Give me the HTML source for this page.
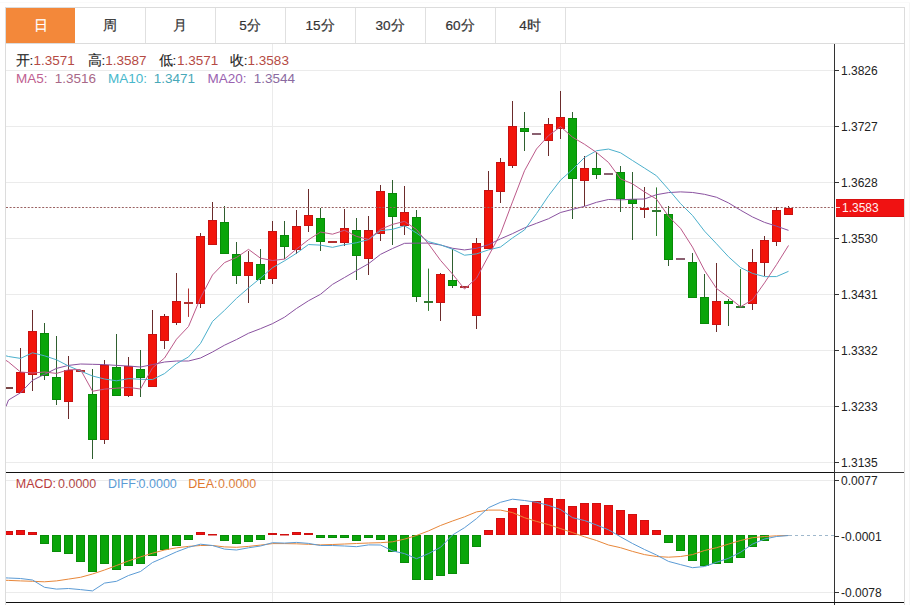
<!DOCTYPE html>
<html><head><meta charset="utf-8">
<style>
html,body{margin:0;padding:0;background:#fff;}
body{width:911px;height:605px;overflow:hidden;position:relative;font-family:"Liberation Sans",sans-serif;}
.tabs{position:absolute;left:5px;top:7px;width:900px;height:37px;}
.tab{position:absolute;top:1px;height:35px;line-height:35px;text-align:center;font-size:13.5px;color:#333;-webkit-text-stroke:0.2px #333;}
.tab.on{background:#f3883a;color:#fff;-webkit-text-stroke:0.2px #fff;}
svg{position:absolute;left:0;top:0;}
.ax{font-size:12px;fill:#222;font-family:"Liberation Sans",sans-serif;}
.hm{font-size:12.5px;font-family:"Liberation Sans",sans-serif;}
.hd{font-size:13.5px;font-family:"Liberation Sans",sans-serif;}
</style></head><body>
<svg width="911" height="605" viewBox="0 0 911 605">
<defs><clipPath id="cp"><rect x="6" y="44" width="828" height="428"/></clipPath>
<clipPath id="cp2"><rect x="6" y="473" width="828" height="129"/></clipPath></defs>
<!-- frame -->
<rect x="909" y="2" width="1" height="603" fill="#f6f6f6"/><rect x="0" y="2" width="910" height="1" fill="#fafafa"/>
<rect x="5" y="7" width="900" height="1" fill="#dcdcdc"/>
<rect x="5" y="43" width="900" height="1" fill="#dcdcdc"/>
<rect x="5" y="7" width="1" height="598" fill="#dcdcdc"/>
<rect x="904" y="7" width="1" height="598" fill="#dcdcdc"/>
<rect x="145" y="8" width="1" height="35" fill="#e0e0e0"/>
<rect x="215" y="8" width="1" height="35" fill="#e0e0e0"/>
<rect x="285" y="8" width="1" height="35" fill="#e0e0e0"/>
<rect x="355" y="8" width="1" height="35" fill="#e0e0e0"/>
<rect x="425" y="8" width="1" height="35" fill="#e0e0e0"/>
<rect x="495" y="8" width="1" height="35" fill="#e0e0e0"/>
<rect x="565" y="8" width="1" height="35" fill="#e0e0e0"/>
<rect x="6" y="8" width="69" height="35" fill="#f3883a"/>
<rect x="6" y="70" width="828" height="1" fill="#ebebeb"/>
<rect x="6" y="126" width="828" height="1" fill="#ebebeb"/>
<rect x="6" y="182" width="828" height="1" fill="#ebebeb"/>
<rect x="6" y="238" width="828" height="1" fill="#ebebeb"/>
<rect x="6" y="294" width="828" height="1" fill="#ebebeb"/>
<rect x="6" y="350" width="828" height="1" fill="#ebebeb"/>
<rect x="6" y="406" width="828" height="1" fill="#ebebeb"/>
<rect x="6" y="462" width="828" height="1" fill="#ebebeb"/>
<rect x="272" y="44" width="1" height="558" fill="#ebebeb"/>
<rect x="560" y="44" width="1" height="558" fill="#ebebeb"/>
<rect x="6" y="480" width="828" height="1" fill="#ebebeb"/>
<rect x="6" y="592" width="828" height="1" fill="#ebebeb"/>
<g clip-path="url(#cp)">
<rect x="4" y="387" width="9" height="2" fill="#7a4545"/>
<rect x="20" y="348" width="1" height="45" fill="#6b2b2b"/>
<rect x="16.5" y="372.5" width="8" height="20" fill="#f2140a" stroke="#c81212" stroke-width="1"/>
<rect x="32" y="310" width="1" height="81" fill="#6b2b2b"/>
<rect x="28.5" y="331.5" width="8" height="43" fill="#f2140a" stroke="#c81212" stroke-width="1"/>
<rect x="44" y="323" width="1" height="57" fill="#2f5f2f"/>
<rect x="40.5" y="333.5" width="8" height="42" fill="#0aa50a" stroke="#088a08" stroke-width="1"/>
<rect x="56" y="336" width="1" height="69" fill="#2f5f2f"/>
<rect x="52.5" y="377.5" width="8" height="22" fill="#0aa50a" stroke="#088a08" stroke-width="1"/>
<rect x="68" y="356" width="1" height="63" fill="#6b2b2b"/>
<rect x="64.5" y="370.5" width="8" height="31" fill="#f2140a" stroke="#c81212" stroke-width="1"/>
<rect x="76" y="370" width="9" height="2" fill="#b03030"/>
<rect x="92" y="369" width="1" height="90" fill="#2f5f2f"/>
<rect x="88.5" y="394.5" width="8" height="45" fill="#0aa50a" stroke="#088a08" stroke-width="1"/>
<rect x="104" y="360" width="1" height="84" fill="#6b2b2b"/>
<rect x="100.5" y="365.5" width="8" height="74" fill="#f2140a" stroke="#c81212" stroke-width="1"/>
<rect x="116" y="334" width="1" height="62" fill="#2f5f2f"/>
<rect x="112.5" y="367.5" width="8" height="28" fill="#0aa50a" stroke="#088a08" stroke-width="1"/>
<rect x="128" y="357" width="1" height="40" fill="#6b2b2b"/>
<rect x="124.5" y="366.5" width="8" height="29" fill="#f2140a" stroke="#c81212" stroke-width="1"/>
<rect x="140" y="350" width="1" height="47" fill="#2f5f2f"/>
<rect x="136.5" y="369.5" width="8" height="8" fill="#0aa50a" stroke="#088a08" stroke-width="1"/>
<rect x="152" y="310" width="1" height="77" fill="#6b2b2b"/>
<rect x="148.5" y="334.5" width="8" height="52" fill="#f2140a" stroke="#c81212" stroke-width="1"/>
<rect x="164" y="314" width="1" height="35" fill="#6b2b2b"/>
<rect x="160.5" y="316.5" width="8" height="24" fill="#f2140a" stroke="#c81212" stroke-width="1"/>
<rect x="176" y="273" width="1" height="52" fill="#6b2b2b"/>
<rect x="172.5" y="301.5" width="8" height="21" fill="#f2140a" stroke="#c81212" stroke-width="1"/>
<rect x="188" y="288.5" width="1" height="28.4" fill="#b03030"/>
<rect x="184" y="302" width="9" height="2" fill="#b03030"/>
<rect x="200" y="233" width="1" height="75" fill="#6b2b2b"/>
<rect x="196.5" y="236.5" width="8" height="67" fill="#f2140a" stroke="#c81212" stroke-width="1"/>
<rect x="212" y="202" width="1" height="43" fill="#6b2b2b"/>
<rect x="208.5" y="220.5" width="8" height="24" fill="#f2140a" stroke="#c81212" stroke-width="1"/>
<rect x="224" y="206" width="1" height="48" fill="#2f5f2f"/>
<rect x="220.5" y="222.5" width="8" height="31" fill="#0aa50a" stroke="#088a08" stroke-width="1"/>
<rect x="236" y="242" width="1" height="42" fill="#2f5f2f"/>
<rect x="232.5" y="254.5" width="8" height="21" fill="#0aa50a" stroke="#088a08" stroke-width="1"/>
<rect x="248" y="251" width="1" height="52" fill="#6b2b2b"/>
<rect x="244.5" y="262.5" width="8" height="13" fill="#f2140a" stroke="#c81212" stroke-width="1"/>
<rect x="260" y="249" width="1" height="35" fill="#2f5f2f"/>
<rect x="256.5" y="264.5" width="8" height="15" fill="#0aa50a" stroke="#088a08" stroke-width="1"/>
<rect x="272" y="221" width="1" height="63" fill="#6b2b2b"/>
<rect x="268.5" y="231.5" width="8" height="47" fill="#f2140a" stroke="#c81212" stroke-width="1"/>
<rect x="284" y="221" width="1" height="38" fill="#2f5f2f"/>
<rect x="280.5" y="235.5" width="8" height="11" fill="#0aa50a" stroke="#088a08" stroke-width="1"/>
<rect x="296" y="210" width="1" height="44" fill="#6b2b2b"/>
<rect x="292.5" y="226.5" width="8" height="23" fill="#f2140a" stroke="#c81212" stroke-width="1"/>
<rect x="308" y="189" width="1" height="43" fill="#6b2b2b"/>
<rect x="304.5" y="215.5" width="8" height="10" fill="#f2140a" stroke="#c81212" stroke-width="1"/>
<rect x="320" y="208" width="1" height="43" fill="#2f5f2f"/>
<rect x="316.5" y="218.5" width="8" height="23" fill="#0aa50a" stroke="#088a08" stroke-width="1"/>
<rect x="328" y="241" width="9" height="2" fill="#b03030"/>
<rect x="344" y="209" width="1" height="37" fill="#6b2b2b"/>
<rect x="340.5" y="228.5" width="8" height="14" fill="#f2140a" stroke="#c81212" stroke-width="1"/>
<rect x="356" y="218" width="1" height="62" fill="#2f5f2f"/>
<rect x="352.5" y="230.5" width="8" height="25" fill="#0aa50a" stroke="#088a08" stroke-width="1"/>
<rect x="368" y="216" width="1" height="59" fill="#6b2b2b"/>
<rect x="364.5" y="230.5" width="8" height="28" fill="#f2140a" stroke="#c81212" stroke-width="1"/>
<rect x="380" y="185" width="1" height="56" fill="#6b2b2b"/>
<rect x="376.5" y="191.5" width="8" height="42" fill="#f2140a" stroke="#c81212" stroke-width="1"/>
<rect x="392" y="180" width="1" height="65" fill="#2f5f2f"/>
<rect x="388.5" y="193.5" width="8" height="23" fill="#0aa50a" stroke="#088a08" stroke-width="1"/>
<rect x="404" y="186" width="1" height="49" fill="#6b2b2b"/>
<rect x="400.5" y="212.5" width="8" height="13" fill="#f2140a" stroke="#c81212" stroke-width="1"/>
<rect x="416" y="210" width="1" height="92" fill="#2f5f2f"/>
<rect x="412.5" y="217.5" width="8" height="79" fill="#0aa50a" stroke="#088a08" stroke-width="1"/>
<rect x="428" y="268.6" width="1" height="42.3" fill="#2f7a2f"/>
<rect x="424" y="301" width="9" height="2" fill="#2f7a2f"/>
<rect x="440" y="273" width="1" height="48" fill="#6b2b2b"/>
<rect x="436.5" y="274.5" width="8" height="28" fill="#f2140a" stroke="#c81212" stroke-width="1"/>
<rect x="452" y="249" width="1" height="39" fill="#2f5f2f"/>
<rect x="448.5" y="280.5" width="8" height="5" fill="#0aa50a" stroke="#088a08" stroke-width="1"/>
<rect x="460" y="286" width="9" height="2" fill="#b03030"/>
<rect x="476" y="238" width="1" height="91" fill="#6b2b2b"/>
<rect x="472.5" y="243.5" width="8" height="72" fill="#f2140a" stroke="#c81212" stroke-width="1"/>
<rect x="488" y="171" width="1" height="78" fill="#6b2b2b"/>
<rect x="484.5" y="190.5" width="8" height="58" fill="#f2140a" stroke="#c81212" stroke-width="1"/>
<rect x="500" y="158" width="1" height="45" fill="#6b2b2b"/>
<rect x="496.5" y="162.5" width="8" height="29" fill="#f2140a" stroke="#c81212" stroke-width="1"/>
<rect x="512" y="101" width="1" height="67" fill="#6b2b2b"/>
<rect x="508.5" y="126.5" width="8" height="39" fill="#f2140a" stroke="#c81212" stroke-width="1"/>
<rect x="524" y="112" width="1" height="39" fill="#2f5f2f"/>
<rect x="520.5" y="128.5" width="8" height="3" fill="#0aa50a" stroke="#088a08" stroke-width="1"/>
<rect x="532" y="133" width="9" height="2" fill="#8a6070"/>
<rect x="548" y="118" width="1" height="38" fill="#6b2b2b"/>
<rect x="544.5" y="124.5" width="8" height="16" fill="#f2140a" stroke="#c81212" stroke-width="1"/>
<rect x="560" y="91" width="1" height="48" fill="#6b2b2b"/>
<rect x="556.5" y="117.5" width="8" height="11" fill="#f2140a" stroke="#c81212" stroke-width="1"/>
<rect x="572" y="112" width="1" height="107" fill="#2f5f2f"/>
<rect x="568.5" y="118.5" width="8" height="60" fill="#0aa50a" stroke="#088a08" stroke-width="1"/>
<rect x="584" y="156" width="1" height="50" fill="#6b2b2b"/>
<rect x="580.5" y="168.5" width="8" height="12" fill="#f2140a" stroke="#c81212" stroke-width="1"/>
<rect x="596" y="152" width="1" height="27" fill="#2f5f2f"/>
<rect x="592.5" y="168.5" width="8" height="6" fill="#0aa50a" stroke="#088a08" stroke-width="1"/>
<rect x="604" y="173" width="9" height="2" fill="#8a6070"/>
<rect x="620" y="166" width="1" height="46" fill="#2f5f2f"/>
<rect x="616.5" y="172.5" width="8" height="26" fill="#0aa50a" stroke="#088a08" stroke-width="1"/>
<rect x="632" y="172" width="1" height="68" fill="#2f5f2f"/>
<rect x="628.5" y="199.5" width="8" height="4" fill="#0aa50a" stroke="#088a08" stroke-width="1"/>
<rect x="644" y="187" width="1" height="31" fill="#6b2b2b"/>
<rect x="640.5" y="208.5" width="8" height="1" fill="#f2140a" stroke="#c81212" stroke-width="1"/>
<rect x="656" y="187.4" width="1" height="48.6" fill="#2f7a2f"/>
<rect x="652" y="210" width="9" height="2" fill="#2f7a2f"/>
<rect x="668" y="206" width="1" height="60" fill="#2f5f2f"/>
<rect x="664.5" y="214.5" width="8" height="45" fill="#0aa50a" stroke="#088a08" stroke-width="1"/>
<rect x="676" y="258" width="9" height="2" fill="#8a6070"/>
<rect x="692" y="253" width="1" height="45" fill="#2f5f2f"/>
<rect x="688.5" y="262.5" width="8" height="35" fill="#0aa50a" stroke="#088a08" stroke-width="1"/>
<rect x="704" y="274" width="1" height="50" fill="#2f5f2f"/>
<rect x="700.5" y="297.5" width="8" height="26" fill="#0aa50a" stroke="#088a08" stroke-width="1"/>
<rect x="716" y="263" width="1" height="69" fill="#6b2b2b"/>
<rect x="712.5" y="301.5" width="8" height="23" fill="#f2140a" stroke="#c81212" stroke-width="1"/>
<rect x="728" y="299" width="1" height="27" fill="#2f5f2f"/>
<rect x="724.5" y="301.5" width="8" height="2" fill="#0aa50a" stroke="#088a08" stroke-width="1"/>
<rect x="740" y="269.1" width="1" height="38.2" fill="#2f7a2f"/>
<rect x="736" y="306" width="9" height="2" fill="#2f7a2f"/>
<rect x="752" y="249" width="1" height="61" fill="#6b2b2b"/>
<rect x="748.5" y="262.5" width="8" height="41" fill="#f2140a" stroke="#c81212" stroke-width="1"/>
<rect x="764" y="236" width="1" height="40" fill="#6b2b2b"/>
<rect x="760.5" y="240.5" width="8" height="22" fill="#f2140a" stroke="#c81212" stroke-width="1"/>
<rect x="776" y="207" width="1" height="39" fill="#6b2b2b"/>
<rect x="772.5" y="210.5" width="8" height="31" fill="#f2140a" stroke="#c81212" stroke-width="1"/>
<rect x="788" y="206" width="1" height="9" fill="#6b2b2b"/>
<rect x="784.5" y="208.5" width="8" height="6" fill="#f2140a" stroke="#c81212" stroke-width="1"/>
<polyline points="6,406.5 8.5,400 20.5,392.8 32.5,380.3 44.5,374.3 56.5,368.4 68.5,365.4 80.5,364 92.5,364.3 104.5,364.6 116.5,365.4 128.5,366 140.5,367 152.5,364.6 164.5,362 176.5,361 188.5,361 200.5,358 212.5,352 224.5,345.2 236.5,339.56 248.5,333.26 260.5,328.67 272.5,323.65 284.5,317.21 296.5,308.48 308.5,300.75 320.5,294.29 332.5,284.38 344.5,277.5 356.5,270.53 368.5,263.74 380.5,254.38 392.5,248.52 404.5,243.33 416.5,243.12 428.5,243.08 440.5,244.98 452.5,248.28 464.5,249.95 476.5,248.31 488.5,244.72 500.5,238.85 512.5,233.62 524.5,227.87 536.5,223.29 548.5,218.72 560.5,212.5 572.5,209.37 584.5,206.36 596.5,202.31 608.5,199.48 620.5,199.89 632.5,199.22 644.5,199 656.5,194.69 668.5,192.59 680.5,191.88 692.5,192.48 704.5,194.32 716.5,197.25 728.5,202.91 740.5,210.16 752.5,216.95 764.5,222.36 776.5,226.17 788.5,230.37" fill="none" stroke="#8a52a0" stroke-width="1" stroke-linejoin="round"/>
<polyline points="6,355.8 8.5,356.5 20.5,358.4 32.5,352.8 44.5,355.8 56.5,359.8 68.5,366 80.5,371 92.5,376 104.5,379 116.5,380.8 128.5,378.6 140.5,379.27 152.5,379.56 164.5,373.59 176.5,363.69 188.5,356.96 200.5,343.46 212.5,321.43 224.5,310.32 236.5,298.33 248.5,287.93 260.5,278.07 272.5,267.74 284.5,260.83 296.5,253.26 308.5,244.53 320.5,245.13 332.5,247.34 344.5,244.69 356.5,242.73 368.5,239.55 380.5,230.68 392.5,229.3 404.5,225.83 416.5,232.98 428.5,241.63 440.5,244.83 452.5,249.22 464.5,255.21 476.5,253.89 488.5,249.9 500.5,247.02 512.5,237.94 524.5,229.9 536.5,213.6 548.5,195.8 560.5,180.17 572.5,169.51 584.5,157.51 596.5,150.72 608.5,149.06 620.5,152.75 632.5,160.49 644.5,168.1 656.5,175.77 668.5,189.39 680.5,203.59 692.5,215.46 704.5,231.13 716.5,243.77 728.5,256.76 740.5,267.56 752.5,273.41 764.5,276.61 776.5,276.57 788.5,271.34" fill="none" stroke="#4cb0cc" stroke-width="1" stroke-linejoin="round"/>
<polyline points="6,360.4 8.5,362 20.5,372 32.5,373 44.5,372 56.5,373.42 68.5,369.78 80.5,369.54 92.5,391.24 104.5,389.12 116.5,388.18 128.5,387.42 140.5,389 152.5,367.88 164.5,358.06 176.5,339.2 188.5,326.5 200.5,297.92 212.5,274.98 224.5,262.58 236.5,257.46 248.5,249.36 260.5,258.22 272.5,260.5 284.5,259.08 296.5,249.06 308.5,239.7 320.5,232.04 332.5,234.18 344.5,230.3 356.5,236.4 368.5,239.4 380.5,229.32 392.5,224.42 404.5,221.36 416.5,229.56 428.5,243.86 440.5,260.34 452.5,274.02 464.5,289.06 476.5,278.22 488.5,255.94 500.5,233.7 512.5,201.86 524.5,170.74 536.5,148.98 548.5,135.66 560.5,126.64 572.5,137.16 584.5,144.28 596.5,152.46 608.5,162.46 620.5,178.86 632.5,183.82 644.5,191.92 656.5,199.08 668.5,216.32 680.5,228.32 692.5,247.1 704.5,270.34 716.5,288.46 728.5,297.2 740.5,306.8 752.5,299.72 764.5,282.88 776.5,264.68 788.5,245.48" fill="none" stroke="#bc5a8a" stroke-width="1" stroke-linejoin="round"/>
<line x1="6" y1="207.5" x2="834" y2="207.5" stroke="#9a6262" stroke-width="1" stroke-dasharray="2,1.62"/>
</g>
<g clip-path="url(#cp2)">
<rect x="4.5" y="531.5" width="8" height="3" fill="#f01010" stroke="#d01010" stroke-width="1"/>
<rect x="16.5" y="530.5" width="8" height="4" fill="#f01010" stroke="#d01010" stroke-width="1"/>
<rect x="28.5" y="532.5" width="8" height="2" fill="#f01010" stroke="#d01010" stroke-width="1"/>
<rect x="40.5" y="535.5" width="8" height="8" fill="#0aa50a" stroke="#088c08" stroke-width="1"/>
<rect x="52.5" y="535.5" width="8" height="16" fill="#0aa50a" stroke="#088c08" stroke-width="1"/>
<rect x="64.5" y="535.5" width="8" height="18" fill="#0aa50a" stroke="#088c08" stroke-width="1"/>
<rect x="76.5" y="535.5" width="8" height="26" fill="#0aa50a" stroke="#088c08" stroke-width="1"/>
<rect x="88.5" y="535.5" width="8" height="36" fill="#0aa50a" stroke="#088c08" stroke-width="1"/>
<rect x="100.5" y="535.5" width="8" height="28" fill="#0aa50a" stroke="#088c08" stroke-width="1"/>
<rect x="112.5" y="535.5" width="8" height="34" fill="#0aa50a" stroke="#088c08" stroke-width="1"/>
<rect x="124.5" y="535.5" width="8" height="30" fill="#0aa50a" stroke="#088c08" stroke-width="1"/>
<rect x="136.5" y="535.5" width="8" height="28" fill="#0aa50a" stroke="#088c08" stroke-width="1"/>
<rect x="148.5" y="535.5" width="8" height="20" fill="#0aa50a" stroke="#088c08" stroke-width="1"/>
<rect x="160.5" y="535.5" width="8" height="14" fill="#0aa50a" stroke="#088c08" stroke-width="1"/>
<rect x="172.5" y="535.5" width="8" height="10" fill="#0aa50a" stroke="#088c08" stroke-width="1"/>
<rect x="184.5" y="535.5" width="8" height="4" fill="#0aa50a" stroke="#088c08" stroke-width="1"/>
<rect x="196.5" y="532.5" width="8" height="2" fill="#f01010" stroke="#d01010" stroke-width="1"/>
<rect x="208.5" y="534.5" width="8" height="0.5" fill="#f01010" stroke="#d01010" stroke-width="1"/>
<rect x="220.5" y="535.5" width="8" height="5" fill="#0aa50a" stroke="#088c08" stroke-width="1"/>
<rect x="232.5" y="535.5" width="8" height="8" fill="#0aa50a" stroke="#088c08" stroke-width="1"/>
<rect x="244.5" y="535.5" width="8" height="6" fill="#0aa50a" stroke="#088c08" stroke-width="1"/>
<rect x="256.5" y="535.5" width="8" height="4" fill="#0aa50a" stroke="#088c08" stroke-width="1"/>
<rect x="268.5" y="533.5" width="8" height="1" fill="#f01010" stroke="#d01010" stroke-width="1"/>
<rect x="280.5" y="534.5" width="8" height="0.5" fill="#f01010" stroke="#d01010" stroke-width="1"/>
<rect x="292.5" y="532.5" width="8" height="2" fill="#f01010" stroke="#d01010" stroke-width="1"/>
<rect x="304.5" y="533.5" width="8" height="1" fill="#f01010" stroke="#d01010" stroke-width="1"/>
<rect x="316.5" y="535.5" width="8" height="2" fill="#0aa50a" stroke="#088c08" stroke-width="1"/>
<rect x="328.5" y="535.5" width="8" height="2" fill="#0aa50a" stroke="#088c08" stroke-width="1"/>
<rect x="340.5" y="535.5" width="8" height="2" fill="#0aa50a" stroke="#088c08" stroke-width="1"/>
<rect x="352.5" y="535.5" width="8" height="5" fill="#0aa50a" stroke="#088c08" stroke-width="1"/>
<rect x="364.5" y="535.5" width="8" height="2" fill="#0aa50a" stroke="#088c08" stroke-width="1"/>
<rect x="376.5" y="535.5" width="8" height="4" fill="#0aa50a" stroke="#088c08" stroke-width="1"/>
<rect x="388.5" y="535.5" width="8" height="16" fill="#0aa50a" stroke="#088c08" stroke-width="1"/>
<rect x="400.5" y="535.5" width="8" height="27" fill="#0aa50a" stroke="#088c08" stroke-width="1"/>
<rect x="412.5" y="535.5" width="8" height="44" fill="#0aa50a" stroke="#088c08" stroke-width="1"/>
<rect x="424.5" y="535.5" width="8" height="44" fill="#0aa50a" stroke="#088c08" stroke-width="1"/>
<rect x="436.5" y="535.5" width="8" height="40" fill="#0aa50a" stroke="#088c08" stroke-width="1"/>
<rect x="448.5" y="535.5" width="8" height="38" fill="#0aa50a" stroke="#088c08" stroke-width="1"/>
<rect x="460.5" y="535.5" width="8" height="28" fill="#0aa50a" stroke="#088c08" stroke-width="1"/>
<rect x="472.5" y="535.5" width="8" height="11" fill="#0aa50a" stroke="#088c08" stroke-width="1"/>
<rect x="484.5" y="530.5" width="8" height="4" fill="#f01010" stroke="#d01010" stroke-width="1"/>
<rect x="496.5" y="518.5" width="8" height="16" fill="#f01010" stroke="#d01010" stroke-width="1"/>
<rect x="508.5" y="508.5" width="8" height="26" fill="#f01010" stroke="#d01010" stroke-width="1"/>
<rect x="520.5" y="505.5" width="8" height="29" fill="#f01010" stroke="#d01010" stroke-width="1"/>
<rect x="532.5" y="501.5" width="8" height="33" fill="#f01010" stroke="#d01010" stroke-width="1"/>
<rect x="544.5" y="498.5" width="8" height="36" fill="#f01010" stroke="#d01010" stroke-width="1"/>
<rect x="556.5" y="499.5" width="8" height="35" fill="#f01010" stroke="#d01010" stroke-width="1"/>
<rect x="568.5" y="506.5" width="8" height="28" fill="#f01010" stroke="#d01010" stroke-width="1"/>
<rect x="580.5" y="503.5" width="8" height="31" fill="#f01010" stroke="#d01010" stroke-width="1"/>
<rect x="592.5" y="503.5" width="8" height="31" fill="#f01010" stroke="#d01010" stroke-width="1"/>
<rect x="604.5" y="505.5" width="8" height="29" fill="#f01010" stroke="#d01010" stroke-width="1"/>
<rect x="616.5" y="510.5" width="8" height="24" fill="#f01010" stroke="#d01010" stroke-width="1"/>
<rect x="628.5" y="514.5" width="8" height="20" fill="#f01010" stroke="#d01010" stroke-width="1"/>
<rect x="640.5" y="520.5" width="8" height="14" fill="#f01010" stroke="#d01010" stroke-width="1"/>
<rect x="652.5" y="530.5" width="8" height="4" fill="#f01010" stroke="#d01010" stroke-width="1"/>
<rect x="664.5" y="535.5" width="8" height="7" fill="#0aa50a" stroke="#088c08" stroke-width="1"/>
<rect x="676.5" y="535.5" width="8" height="15" fill="#0aa50a" stroke="#088c08" stroke-width="1"/>
<rect x="688.5" y="535.5" width="8" height="25" fill="#0aa50a" stroke="#088c08" stroke-width="1"/>
<rect x="700.5" y="535.5" width="8" height="30" fill="#0aa50a" stroke="#088c08" stroke-width="1"/>
<rect x="712.5" y="535.5" width="8" height="28" fill="#0aa50a" stroke="#088c08" stroke-width="1"/>
<rect x="724.5" y="535.5" width="8" height="27" fill="#0aa50a" stroke="#088c08" stroke-width="1"/>
<rect x="736.5" y="535.5" width="8" height="22" fill="#0aa50a" stroke="#088c08" stroke-width="1"/>
<rect x="748.5" y="535.5" width="8" height="11" fill="#0aa50a" stroke="#088c08" stroke-width="1"/>
<rect x="760.5" y="535.5" width="8" height="5" fill="#0aa50a" stroke="#088c08" stroke-width="1"/>
<polyline points="6,580.3 8.5,580.4 20.5,580.9 32.5,581.3 44.5,581.8 56.5,580.9 68.5,579.1 80.5,577.3 92.5,574 104.5,570 116.5,565.5 128.5,560.9 140.5,556.9 152.5,553.2 164.5,550 176.5,547.8 188.5,546.4 200.5,545.5 212.5,545.5 224.5,546.9 236.5,547.3 248.5,546.4 260.5,545.1 272.5,543.6 284.5,543.6 296.5,543.8 308.5,544.3 320.5,544.9 332.5,544.5 344.5,544 356.5,543.5 368.5,543 380.5,542.7 392.5,541.8 404.5,539.1 416.5,535.5 428.5,530.9 440.5,525.5 452.5,521 464.5,516.8 476.5,511.9 488.5,510.1 500.5,510.1 512.5,512.6 524.5,517.7 536.5,521.4 548.5,524.6 560.5,528.6 572.5,532.6 584.5,536.8 596.5,540.5 608.5,545 620.5,547.7 632.5,551.4 644.5,554.6 656.5,556.5 668.5,557.2 680.5,556.5 692.5,554.6 704.5,550.5 716.5,547.7 728.5,544.1 740.5,540.5 752.5,537.7 764.5,536.5 776.5,535.8 788.5,535.5" fill="none" stroke="#e8873a" stroke-width="1" stroke-linejoin="round"/>
<polyline points="6,577.9 8.5,578 20.5,578.5 32.5,580 44.5,587.3 56.5,589.1 68.5,588.5 80.5,589.6 92.5,590.9 104.5,583.1 116.5,581.3 128.5,575.5 140.5,571.5 152.5,562.5 164.5,557.3 176.5,551.8 188.5,547.3 200.5,544.2 212.5,545.5 224.5,549.1 236.5,550 248.5,547.8 260.5,546 272.5,542.7 284.5,543.1 296.5,542.4 308.5,543.4 320.5,545.5 332.5,545.5 344.5,546 356.5,546.7 368.5,544.9 380.5,545 392.5,550.9 404.5,553.6 416.5,558.7 428.5,553.6 440.5,547.3 452.5,535 464.5,527.7 476.5,518.6 488.5,507.7 500.5,502.3 512.5,499.2 524.5,500.5 536.5,502.3 548.5,505.4 560.5,509.5 572.5,517.7 584.5,520.5 596.5,525 608.5,529.8 620.5,536.8 632.5,543.5 644.5,549.5 656.5,555 668.5,561.4 680.5,564.6 692.5,567.7 704.5,566.5 716.5,562.3 728.5,558.3 740.5,552.3 752.5,544.1 764.5,539 776.5,536.5 788.5,535.5" fill="none" stroke="#5b9bd5" stroke-width="1" stroke-linejoin="round"/>
<line x1="789" y1="535.5" x2="834" y2="535.5" stroke="#9fb8cc" stroke-width="1" stroke-dasharray="3,3"/>
</g>
<rect x="834" y="44" width="1" height="561" fill="#333"/>
<rect x="6" y="472" width="828" height="1" fill="#111"/>
<rect x="834" y="472" width="70" height="1" fill="#333"/>
<rect x="6" y="602" width="898" height="1" fill="#111"/>
<rect x="834" y="70" width="5" height="1" fill="#333"/>
<text x="841" y="74.5" class="ax">1.3826</text>
<rect x="834" y="126" width="5" height="1" fill="#333"/>
<text x="841" y="130.5" class="ax">1.3727</text>
<rect x="834" y="182" width="5" height="1" fill="#333"/>
<text x="841" y="186.5" class="ax">1.3628</text>
<rect x="834" y="238" width="5" height="1" fill="#333"/>
<text x="841" y="242.5" class="ax">1.3530</text>
<rect x="834" y="294" width="5" height="1" fill="#333"/>
<text x="841" y="298.5" class="ax">1.3431</text>
<rect x="834" y="350" width="5" height="1" fill="#333"/>
<text x="841" y="354.5" class="ax">1.3332</text>
<rect x="834" y="406" width="5" height="1" fill="#333"/>
<text x="841" y="410.5" class="ax">1.3233</text>
<rect x="834" y="462" width="5" height="1" fill="#333"/>
<text x="841" y="466.5" class="ax">1.3135</text>
<rect x="834" y="480" width="5" height="1" fill="#333"/>
<text x="841" y="484.5" class="ax">0.0077</text>
<rect x="834" y="536" width="5" height="1" fill="#333"/>
<text x="841" y="540.5" class="ax">-0.0001</text>
<rect x="834" y="592" width="5" height="1" fill="#333"/>
<text x="841" y="596.5" class="ax">-0.0078</text>
<rect x="836" y="199" width="68" height="18" fill="#f01212"/><rect x="836" y="199" width="68" height="1" fill="#d81010"/><rect x="836" y="216" width="68" height="1" fill="#d81010"/><rect x="836" y="207" width="4" height="1" fill="#ffd0d0"/>
<text x="842" y="212.3" class="ax" style="fill:#fff0f0">1.3583</text>
<text x="15.5" y="65" class="hd" fill="#222" stroke="#222" stroke-width="0.12">开:</text><text x="33.5" y="65" class="hd" fill="#b54a44">1.3571</text>
<text x="87.5" y="65" class="hd" fill="#222" stroke="#222" stroke-width="0.12">高:</text><text x="105.2" y="65" class="hd" fill="#b54a44">1.3587</text>
<text x="158.5" y="65" class="hd" fill="#222" stroke="#222" stroke-width="0.12">低:</text><text x="177" y="65" class="hd" fill="#b54a44">1.3571</text>
<text x="229.8" y="65" class="hd" fill="#222" stroke="#222" stroke-width="0.12">收:</text><text x="247.6" y="65" class="hd" fill="#b54a44">1.3583</text>
<text x="16" y="82.5" class="hd" fill="#c06090">MA5:</text><text x="54.7" y="82.5" class="hd" fill="#a86888">1.3516</text>
<text x="108" y="82.5" class="hd" fill="#48b8cc">MA10:</text><text x="153.7" y="82.5" class="hd" fill="#48a8b8">1.3471</text>
<text x="207.4" y="82.5" class="hd" fill="#9a62b0">MA20:</text><text x="253.7" y="82.5" class="hd" fill="#8a6aa0">1.3544</text>
<text x="15.8" y="488" class="hm" fill="#b83c3c">MACD:</text><text x="58" y="488" class="hm" fill="#b04848">0.0000</text>
<text x="108" y="488" class="hm" fill="#5b9bd5">DIFF:</text><text x="138.6" y="488" class="hm" fill="#5b9bd5">0.0000</text>
<text x="188.3" y="488" class="hm" fill="#e0782e">DEA:</text><text x="218" y="488" class="hm" fill="#dc8040">0.0000</text>
</svg>
<div class="tabs">
<div class="tab on" style="left:1px;width:69px">日</div>
<div class="tab" style="left:70px;width:70px">周</div>
<div class="tab" style="left:140px;width:70px">月</div>
<div class="tab" style="left:210px;width:70px">5分</div>
<div class="tab" style="left:280px;width:70px">15分</div>
<div class="tab" style="left:350px;width:70px">30分</div>
<div class="tab" style="left:420px;width:70px">60分</div>
<div class="tab" style="left:490px;width:70px">4时</div>
</div>
</body></html>
